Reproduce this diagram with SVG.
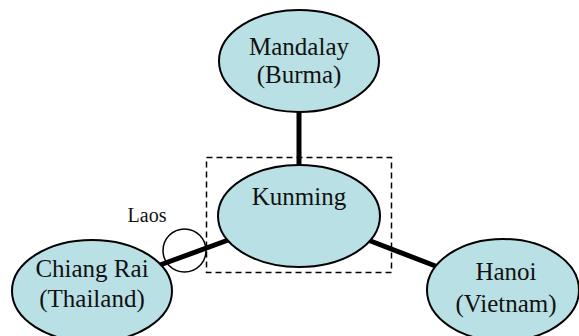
<svg xmlns="http://www.w3.org/2000/svg" width="579" height="336" viewBox="0 0 579 336">
  <style>
    .city { fill: #b9e0e4; stroke: #000; stroke-width: 2; }
    .label { font-family: "Liberation Serif", "Times New Roman", serif; font-size: 25px; fill: #111; text-anchor: middle; }
    .small { font-family: "Liberation Serif", "Times New Roman", serif; font-size: 20px; fill: #111; text-anchor: middle; }
    .road { stroke: #000; stroke-width: 5; fill: none; }
  </style>
  <rect width="579" height="336" fill="#fff"/>

  <!-- routes -->
  <g id="connectors">
    <line class="road" x1="299" y1="112" x2="299" y2="165"/>
    <line class="road" x1="160" y1="265" x2="231" y2="239"/>
    <line class="road" x1="368" y1="240" x2="438" y2="267"/>
  </g>

  <!-- highlighted region around Kunming -->
  <rect id="region" x="206.5" y="157.5" width="185" height="115" fill="none" stroke="#000" stroke-width="1.5" stroke-dasharray="6,4"/>

  <g id="mandalay">
    <ellipse class="city" cx="299" cy="61" rx="80" ry="51"/>
    <text class="label" x="299" y="55">Mandalay</text>
    <text class="label" x="299" y="83">(Burma)</text>
  </g>

  <g id="kunming">
    <ellipse class="city" cx="299" cy="216" rx="81" ry="51"/>
    <text class="label" x="299" y="205">Kunming</text>
  </g>

  <g id="chiang-rai">
    <ellipse class="city" cx="92" cy="291" rx="80" ry="51"/>
    <text class="label" x="92" y="277">Chiang Rai</text>
    <text class="label" x="92" y="307">(Thailand)</text>
  </g>

  <g id="hanoi">
    <ellipse class="city" cx="503" cy="290" rx="76" ry="51"/>
    <text class="label" x="506" y="280">Hanoi</text>
    <text class="label" x="506" y="312">(Vietnam)</text>
  </g>

  <g id="laos">
    <circle cx="184.5" cy="250.5" r="21.5" fill="none" stroke="#000" stroke-width="1.5"/>
    <text class="small" x="147" y="222">Laos</text>
  </g>
</svg>
